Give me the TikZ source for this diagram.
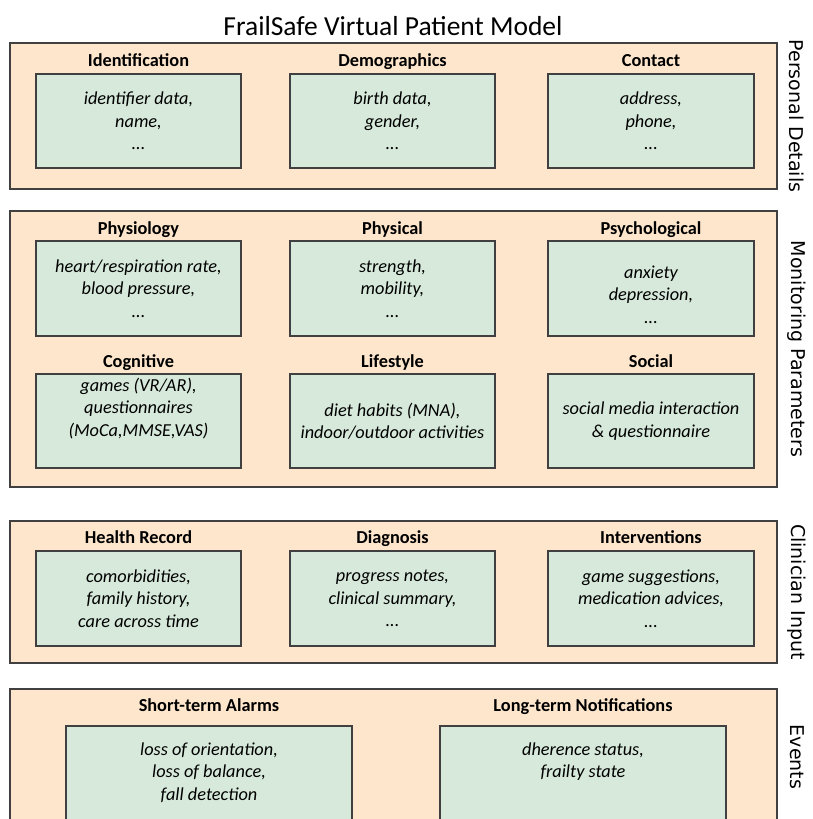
\documentclass[tikz,border=0pt]{standalone}
\usepackage{fontspec}
\setmainfont{Carlito}
\newfontfamily\sidefont{DejaVu Sans}
\definecolor{peach}{HTML}{FDE6CC}
\definecolor{mint}{HTML}{D6E9DA}
\definecolor{edgegray}{HTML}{404040}
\begin{document}
\begin{tikzpicture}[x=1pt,y=-1pt,
  panel/.style={draw=edgegray, fill=peach, line width=1.3pt, inner sep=0pt},
  card/.style={draw=edgegray, fill=mint, line width=1.3pt, inner sep=0pt, align=center,
    font=\fontsize{18.3}{22.5}\selectfont\itshape},
  txt/.style={inner sep=0pt, align=center, font=\fontsize{18.3}{22.5}\selectfont\itshape},
  head/.style={inner sep=0pt, anchor=base, font=\fontsize{18.3}{22}\selectfont\bfseries},
  side/.style={inner sep=0pt, rotate=-90, font=\sidefont\fontsize{19}{22}\selectfont},
  title/.style={inner sep=0pt, anchor=base, font=\fontsize{27.5}{32}\selectfont}]
\useasboundingbox (0,0) rectangle (813,819);

\node[title] (title) at (393,35) {FrailSafe Virtual Patient Model};

% Panel 1
\node[panel, minimum width=767, minimum height=146] (p1) at (393.5,116) {};
\node[side] (s1) at (797,116) {Personal Details};
\node[head] (h11) at (138.5,66) {Identification};
\node[head] (h12) at (392.5,66) {Demographics};
\node[head] (h13) at (651,66) {Contact};
\node[card, minimum width=205, minimum height=94] (c11) at (138.5,121) {identifier data,\\ name,\\ ...};
\node[card, minimum width=205, minimum height=94] (c12) at (392.5,121) {birth data,\\ gender,\\ ...};
\node[card, minimum width=206, minimum height=94] (c13) at (651,121) {address,\\ phone,\\ ...};

% Panel 2
\node[panel, minimum width=767, minimum height=276] (p2) at (393.5,349) {};
\node[side] (s2) at (797,349) {Monitoring Parameters};
\node[head] (h21) at (138.5,234) {Physiology};
\node[head] (h22) at (392.5,234) {Physical};
\node[head] (h23) at (651,234) {Psychological};
\node[card, minimum width=205, minimum height=95] (c21) at (138.5,288.5) {heart/respiration rate,\\ blood pressure,\\ ...};
\node[card, minimum width=205, minimum height=95] (c22) at (392.5,288.5) {strength,\\ mobility,\\ ...};
\node[card, minimum width=206, minimum height=95] (c23) at (651,288.5) {};
\node[txt] (t23) at (651,294.5) {anxiety\\ depression,\\ ...};
\node[head] (h24) at (138.5,367) {Cognitive};
\node[head] (h25) at (392.5,367) {Lifestyle};
\node[head] (h26) at (651,367) {Social};
\node[card, minimum width=205, minimum height=94] (c24) at (138.5,421) {};
\node[txt] (t24) at (138.5,408.5) {games (VR/AR),\\ questionnaires\\ (MoCa,MMSE,VAS)};
\node[card, minimum width=205, minimum height=94] (c25) at (392.5,421) {diet habits (MNA),\\ indoor/outdoor activities};
\node[card, minimum width=206, minimum height=94] (c26) at (651,421) {social media interaction\\ \& questionnaire};

% Panel 3
\node[panel, minimum width=767, minimum height=142] (p3) at (393.5,592) {};
\node[side] (s3) at (797,592) {Clinician Input};
\node[head] (h31) at (138.5,543) {Health Record};
\node[head] (h32) at (392.5,543) {Diagnosis};
\node[head] (h33) at (651,543) {Interventions};
\node[card, minimum width=205, minimum height=95] (c31) at (138.5,598.5) {comorbidities,\\ family history,\\ care across time};
\node[card, minimum width=205, minimum height=95] (c32) at (392.5,598.5) {progress notes,\\ clinical summary,\\ ...};
\node[card, minimum width=206, minimum height=95] (c33) at (651,598.5) {game suggestions,\\ medication advices,\\ ...};

% Panel 4
\node[panel, minimum width=767, minimum height=160] (p4) at (393.5,769) {};
\node[side] (s4) at (797,757) {Events};
\node[head] (h41) at (209,711) {Short-term Alarms};
\node[head] (h42) at (583,711) {Long-term Notifications};
\node[card, minimum width=286, minimum height=120] (c41) at (209,786) {};
\node[card, minimum width=286, minimum height=120] (c42) at (583,786) {};
\node[txt] (t41) at (209,772.5) {loss of orientation,\\ loss of balance,\\ fall detection};
\node[txt] (t42) at (583,761.5) {dherence status,\\ frailty state};
\end{tikzpicture}
\end{document}
